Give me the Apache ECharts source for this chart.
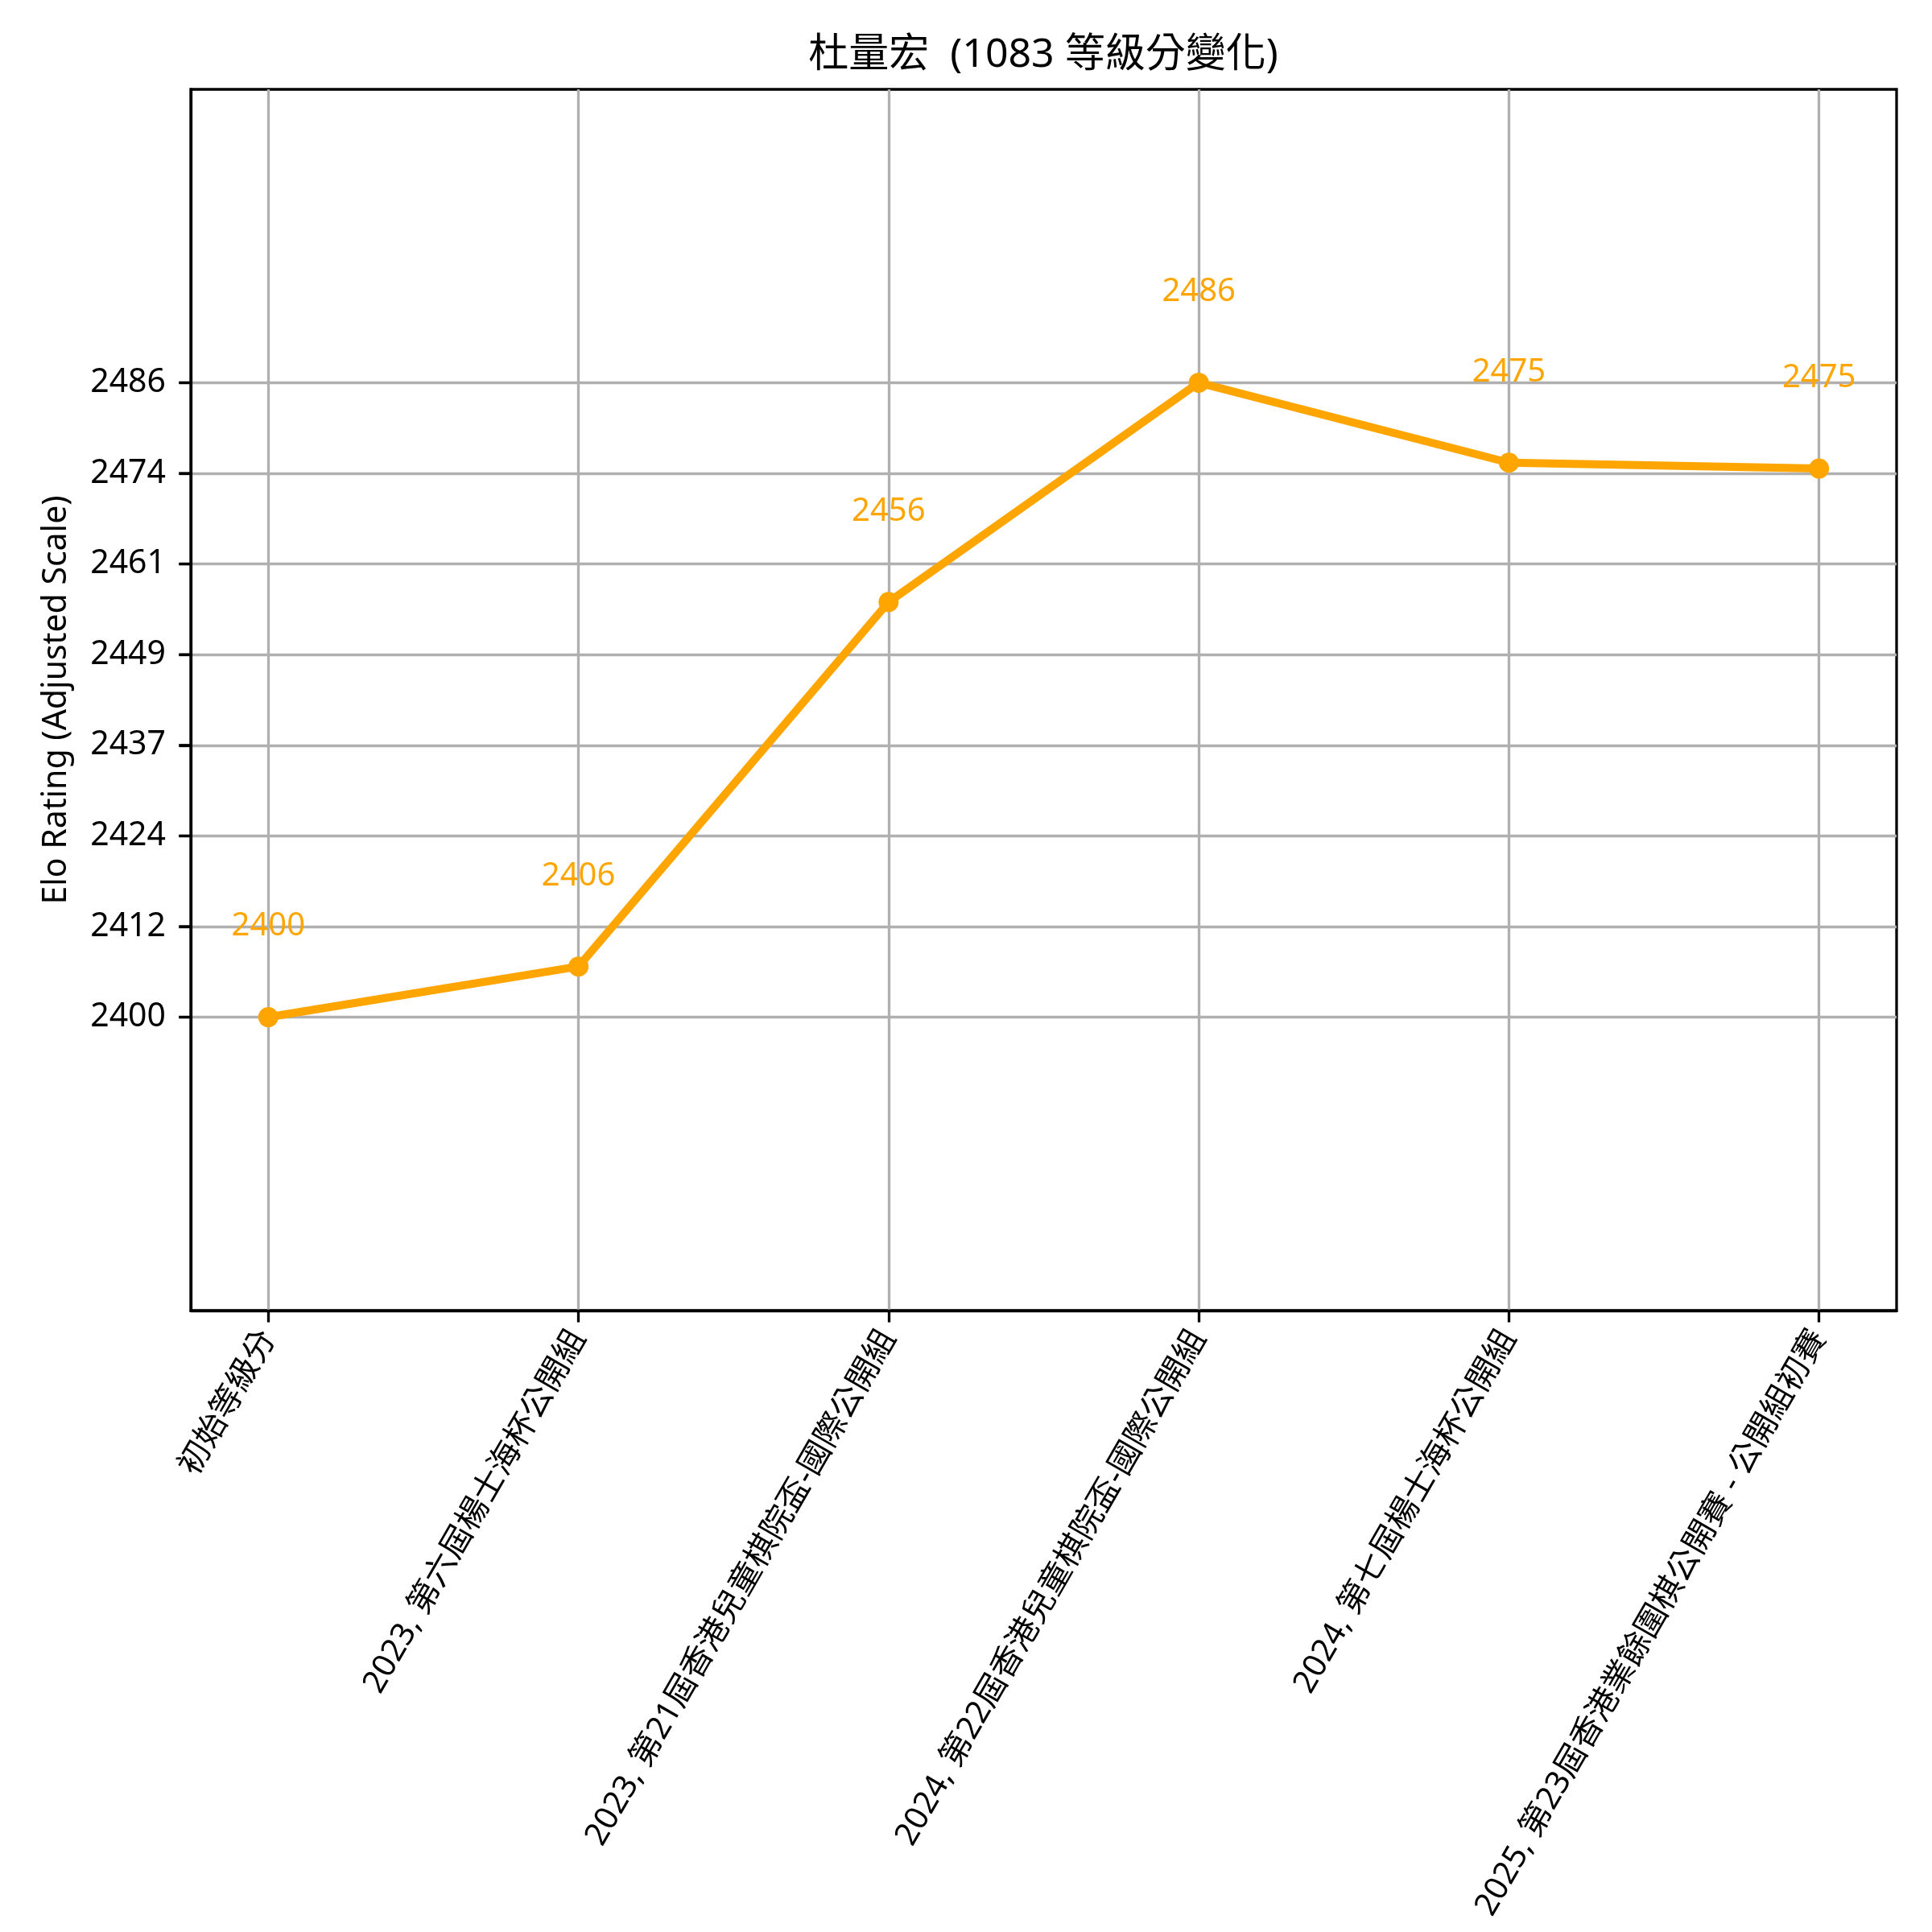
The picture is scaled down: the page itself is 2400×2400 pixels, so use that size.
<!DOCTYPE html>
<html>
<head>
<meta charset="utf-8">
<script src="https://cdn.jsdelivr.net/npm/echarts@6/dist/echarts.min.js"></script>
<style>
html,body{margin:0;padding:0;background:#fff;}
#chart{width:2400px;height:2400px;}
</style>
</head>
<body>
<div id="chart"></div>
<script>
const titleText = '杜量宏  (1083 等級分變化)';
const yAxisTitle = 'Elo Rating (Adjusted Scale)';
const categories = [
  '初始等級分',
  '2023, 第六屆楊士海杯公開組',
  '2023, 第21屆香港兒童棋院盃-國際公開組',
  '2024, 第22屆香港兒童棋院盃-國際公開組',
  '2024, 第七屆楊士海杯公開組',
  '2025, 第23屆香港業餘圍棋公開賽 - 公開組初賽'
];
const ratings = [2400, 2406.9, 2456.6, 2486.5, 2475.6, 2474.8];
const pointLabels = ['2400', '2406', '2456', '2486', '2475', '2475'];
const yTickValues = [2400, 2412.36, 2424.71, 2437.07, 2449.43, 2461.79, 2474.14, 2486.5];
const yTickLabels = ['2400', '2412', '2424', '2437', '2449', '2461', '2474', '2486'];
const yMin = 2360;
const yMax = 2526.5;
const xMin = -0.25;
const xMax = 5.25;

const FONT = "'Noto Sans', 'Noto Sans CJK TC', sans-serif";
const xIdx = categories.map((c, i) => i);
const seriesData = ratings.map((v, i) => [i, v]);
const yTickData = yTickValues.map(v => [xMin, v]);

const chart = echarts.init(document.getElementById('chart'), null, {renderer: 'canvas'});
chart.setOption({
  animation: false,
  backgroundColor: '#ffffff',
  title: {
    text: titleText,
    left: 1296,
    textAlign: 'center',
    top: 44,
    padding: 0,
    textStyle: {fontFamily: FONT, fontSize: 50, fontWeight: 'normal', color: '#000'}
  },
  grid: {
    left: 237, top: 111, right: 44, bottom: 772,
    show: true, borderColor: '#000', borderWidth: 3.3, backgroundColor: 'transparent',
    containLabel: false,
    outerBoundsMode: 'none'
  },
  xAxis: {
    type: 'value',
    min: xMin,
    max: xMax,
    axisLine: {show: true, onZero: false, lineStyle: {color: '#000', width: 3.3}},
    axisTick: {show: true, customValues: xIdx, length: 14.6, lineStyle: {color: '#000', width: 3.3}},
    minorTick: {show: false},
    splitLine: {show: true, lineStyle: {color: '#b0b0b0', width: 3.3}},
    axisLabel: {
      customValues: xIdx,
      rotate: 60,
      margin: 28,
      fontFamily: FONT,
      fontSize: 40,
      color: '#000',
      formatter: function (v) { return categories[Math.round(v)] || ''; }
    }
  },
  yAxis: {
    type: 'value',
    min: yMin,
    max: yMax,
    name: yAxisTitle,
    nameLocation: 'middle',
    nameGap: 146,
    nameTextStyle: {fontFamily: FONT, fontSize: 41, color: '#000'},
    axisLine: {show: true, onZero: false, lineStyle: {color: '#000', width: 3.3}},
    axisTick: {show: true, inside: false, customValues: yTickValues, length: 14.6, lineStyle: {color: '#000', width: 3.3}},
    splitLine: {show: true, lineStyle: {color: '#b0b0b0', width: 3.3}},
    axisLabel: {
      customValues: yTickValues,
      margin: 31,
      fontFamily: FONT,
      fontSize: 41,
      color: '#000',
      formatter: function (v) {
        let best = 0, d = Infinity;
        yTickValues.forEach((t, i) => { if (Math.abs(t - v) < d) { d = Math.abs(t - v); best = i; } });
        return yTickLabels[best];
      }
    }
  },
  series: [{
    type: 'line',
    data: seriesData,
    symbol: 'circle',
    symbolSize: 25,
    lineStyle: {color: '#FFA500', width: 10},
    itemStyle: {color: '#FFA500'},
    label: {
      show: true,
      position: 'top',
      distance: 80,
      fontFamily: FONT,
      fontSize: 40,
      color: '#FFA500',
      formatter: function (p) { return pointLabels[p.dataIndex]; }
    },
    z: 5
  }, {
    type: 'custom',
    data: yTickData,
    clip: false,
    silent: true,
    z: 6,
    renderItem: function (params, api) {
      const p = api.coord([api.value(0), api.value(1)]);
      return {
        type: 'line',
        shape: {x1: p[0] - 14.6, y1: p[1], x2: p[0], y2: p[1]},
        style: {stroke: '#000', lineWidth: 3.3}
      };
    }
  }]
});
</script>
</body>
</html>
